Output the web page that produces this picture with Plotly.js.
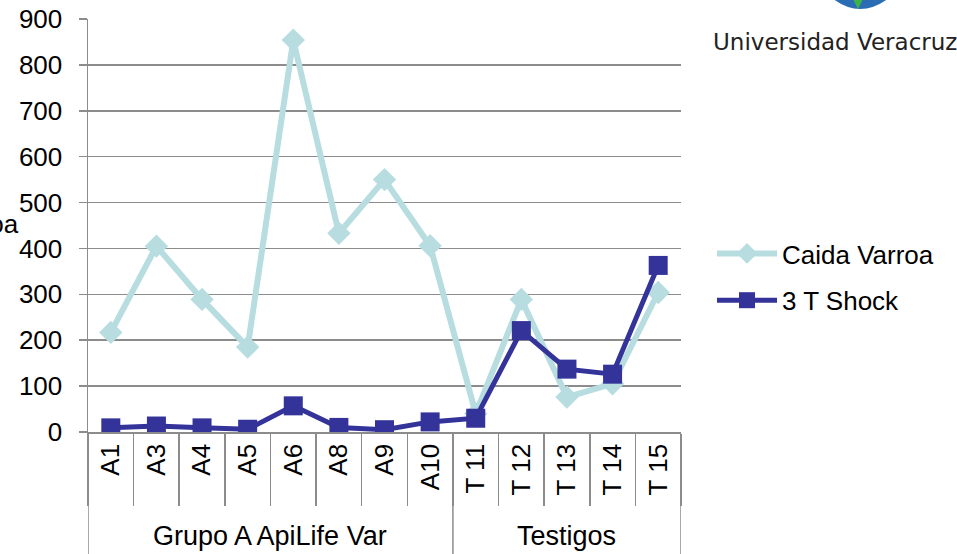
<!DOCTYPE html>
<html>
<head>
<meta charset="utf-8">
<script src="https://cdn.plot.ly/plotly-3.0.1.min.js"></script>
<style>html,body{margin:0;padding:0;background:#fff;}#chart{width:957px;height:554px;}</style>
</head>
<body>
<div id="chart"></div>
<script>
var categories = ["A1","A3","A4","A5","A6","A8","A9","A10","T 11","T 12","T 13","T 14","T 15"];
var groupNames = ["Grupo A ApiLife Var","Testigos"];
var groupSizes = [8,5];
var caidaVarroa = [217,405,289,185,854,433,550,406,40,289,76,105,304];
var shock3T = [9,13,9,6,57,10,5,22,30,221,137,126,363];
var yTicks = [0,100,200,300,400,500,600,700,800,900];

var FONT = "Liberation Sans, Arial, sans-serif";
var FS = 26;
var plotL = 88, plotR = 681, plotT = 19, plotB = 432, H = 554;
var plotH = plotB - plotT, plotW = plotR - plotL;
function py(p){ return (plotB - p) / plotH; }
function px(p){ return (p - plotL) / plotW; }

var traces = [
  {x: categories, y: caidaVarroa, name: "Caida Varroa", type: "scatter", mode: "lines+markers",
   legendgroup: "a",
   line: {color: "#B7DDE0", width: 6}, marker: {symbol: "diamond", size: 18, color: "#B7DDE0"}},
  {x: categories, y: shock3T, name: "3 T Shock", type: "scatter", mode: "lines+markers",
   legendgroup: "b",
   line: {color: "#333399", width: 5}, marker: {symbol: "square", size: 19, color: "#333399"}}
];

var shapes = [], annotations = [];
var start = 0;
shapes.push({type: "line", xref: "x", yref: "paper", x0: -0.5, x1: -0.5, y0: 0, y1: py(H + 5),
  line: {color: "#8c8c8c", width: 1.5}});
for (var g = 0; g < groupNames.length; g++) {
  var end = start + groupSizes[g];
  shapes.push({type: "line", xref: "x", yref: "paper", x0: end - 0.5, x1: end - 0.5, y0: 0, y1: py(H + 5),
    line: {color: "#8c8c8c", width: 1.5}});
  annotations.push({xref: "x", yref: "paper", x: (start + end - 1) / 2, y: py(536),
    text: groupNames[g], showarrow: false, xanchor: "center", yanchor: "middle",
    font: {family: FONT, size: 27, color: "#000"}});
  start = end;
}
annotations.push({xref: "paper", yref: "paper", x: px(21), y: py(224), text: "Caida Varroa",
  showarrow: false, xanchor: "right", yanchor: "middle", font: {family: FONT, size: FS, color: "#000"}});
annotations.push({xref: "paper", yref: "paper", x: px(959), y: py(42), text: "Universidad Veracruz",
  showarrow: false, xanchor: "right", yanchor: "middle", font: {family: "DejaVu Sans, sans-serif", size: 23, color: "#222"}});

// small logo fragment at top
shapes.push({type: "path", xref: "paper", yref: "paper",
  path: "M " + px(832) + " " + py(-2) + " Q " + px(860) + " " + py(20) + " " + px(889) + " " + py(-2) + " Z",
  fillcolor: "#2a6db5", line: {width: 0}});
shapes.push({type: "path", xref: "paper", yref: "paper",
  path: "M " + px(853) + " " + py(-1) + " L " + px(858) + " " + py(9) + " L " + px(863) + " " + py(-1) + " Z",
  fillcolor: "#3cb44a", line: {width: 0}});

var layout = {
  width: 957, height: 554,
  margin: {l: plotL, r: 957 - plotR, t: plotT, b: H - plotB, pad: 0},
  paper_bgcolor: "#fff", plot_bgcolor: "#fff",
  showlegend: true,
  legend: {x: px(712), y: py(277), xanchor: "left", yanchor: "middle",
    font: {family: FONT, size: FS, color: "#000"}, traceorder: "grouped", tracegroupgap: 10,
    bgcolor: "rgba(0,0,0,0)", itemwidth: 60},
  xaxis: {type: "category", categoryarray: categories, range: [-0.5, categories.length - 0.5],
    showgrid: false, zeroline: false, showline: true, linecolor: "#8c8c8c", linewidth: 1.5,
    ticks: "outside", tickson: "boundaries", ticklen: 72, tickcolor: "#8c8c8c", tickwidth: 1.5,
    tickangle: -90, tickfont: {family: FONT, size: FS, color: "#000"}, fixedrange: true},
  yaxis: {range: [0, 900], tickvals: yTicks, ticktext: yTicks.map(String),
    showgrid: true, gridcolor: "#8c8c8c", gridwidth: 1.5, zeroline: false,
    showline: true, linecolor: "#8c8c8c", linewidth: 1.5,
    ticks: "outside", ticklen: 8, tickcolor: "#8c8c8c", tickwidth: 1.5, ticklabelstandoff: 11,
    tickfont: {family: FONT, size: FS, color: "#000"}, fixedrange: true},
  shapes: shapes,
  annotations: annotations
};

Plotly.newPlot("chart", traces, layout, {displayModeBar: false, staticPlot: true});
</script>
</body>
</html>
